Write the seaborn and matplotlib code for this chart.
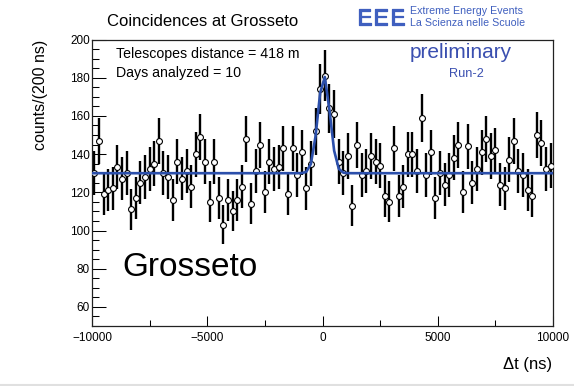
import numpy as np
import pandas as pd
import matplotlib
matplotlib.use("Agg")
import matplotlib.pyplot as plt
import matplotlib.patheffects as pe
import seaborn as sns
from matplotlib.lines import Line2D
from matplotlib.ticker import MultipleLocator

# ---- data ----
bin_centers = np.arange(-9900, 10000, 200)
counts = [130, 147, 119, 121, 122, 133, 127, 130, 111, 117,
          125, 128, 132, 135, 147, 130, 128, 116, 136, 127,
          131, 123, 140, 149, 136, 115, 136, 117, 103, 116,
          110, 116, 123, 148, 114, 131, 145, 120, 136, 132,
          133, 143, 119, 143, 129, 141, 122, 135, 152, 174,
          181, 164, 161, 136, 130, 139, 113, 145, 129, 131,
          139, 136, 134, 118, 115, 143, 118, 123, 140, 140,
          131, 159, 129, 141, 117, 130, 124, 129, 138, 145,
          120, 144, 125, 132, 141, 148, 139, 142, 124, 122,
          137, 147, 131, 129, 121, 118, 150, 146, 132, 134]
fit_baseline = 130.0
fit_amplitude = 51.0
fit_mean = 60.0
fit_sigma = 260.0
x_ticks = [-10000, -5000, 0, 5000, 10000]
y_ticks = [60, 80, 100, 120, 140, 160, 180, 200]

df = pd.DataFrame({"dt": bin_centers, "counts": counts})
df["err"] = np.sqrt(df["counts"])
fit_x = np.linspace(-10000, 10000, 100)
fit_df = pd.DataFrame({"dt": fit_x,
                       "f": fit_baseline + fit_amplitude * np.exp(-0.5 * ((fit_x - fit_mean) / fit_sigma) ** 2)})

sns.set_theme(style="ticks")
plt.rcParams["font.family"] = ["Liberation Sans", "DejaVu Sans"]
plt.rcParams["text.color"] = "black"
plt.rcParams["axes.labelcolor"] = "black"
plt.rcParams["xtick.color"] = "black"
plt.rcParams["ytick.color"] = "black"

W, H = 574, 386
fig = plt.figure(figsize=(W / 100, H / 100), dpi=100)
ax = fig.add_axes([92 / W, 1 - 326 / H, (553 - 92) / W, (326 - 39.5) / H])

ax.errorbar(df["dt"], df["counts"], yerr=df["err"], fmt="none",
            ecolor="black", elinewidth=1.7, capsize=0, zorder=2)
sns.scatterplot(data=df, x="dt", y="counts", ax=ax, marker="o", s=18,
                facecolor="white", edgecolor="black", linewidth=0.8, zorder=3, legend=False)
sns.lineplot(data=fit_df, x="dt", y="f", ax=ax, color="#2b4fab", linewidth=1.9,
             zorder=4, legend=False)

ax.set_xlim(-10000, 10000)
ax.set_ylim(50, 200)
ax.set_xticks(x_ticks)
ax.set_yticks(y_ticks)
ax.xaxis.set_minor_locator(MultipleLocator(2500))
ax.yaxis.set_minor_locator(MultipleLocator(5))
ax.set_xticklabels([f"{v}".replace("-", "\u2212") for v in x_ticks])
ax.tick_params(axis="x", which="major", direction="in", length=7.2, width=0.75,
               labelsize=8.5, pad=4, top=False)
ax.tick_params(axis="x", which="minor", direction="in", length=4, width=0.75, top=False)
ax.tick_params(axis="y", which="major", direction="in", length=9.9, width=0.75,
               labelsize=8.5, pad=1.5, right=False)
ax.tick_params(axis="y", which="minor", direction="in", length=5, width=0.75, right=False)
for sp in ax.spines.values():
    sp.set_visible(True)
    sp.set_linewidth(0.9)
    sp.set_color("#222222")
ax.set_xlabel("")
ax.set_ylabel("")

# axis titles
fig.text(40 / W, 1 - 40 / H, "counts/(200 ns)", rotation=90, ha="center", va="top", fontsize=11.5)
fig.text(552 / W, 1 - 365 / H, "\u0394t (ns)", ha="right", va="center", fontsize=12)

# title and logo
fig.text(203 / W, 1 - 21.5 / H, "Coincidences at Grosseto", ha="center", va="center", fontsize=12)
logo_blue = "#3f5fbf"
for i, letter in enumerate("EEE"):
    fig.text((357 + i * 16.5) / W, 1 - 24.5 / H, letter, ha="left", va="baseline",
             fontsize=16, color=logo_blue,
             path_effects=[pe.withStroke(linewidth=0.9, foreground=logo_blue)])
fig.text(410 / W, 1 - 11 / H, "Extreme Energy Events", ha="left", va="center",
         fontsize=7.7, color=logo_blue)
fig.text(410 / W, 1 - 23 / H, "La Scienza nelle Scuole", ha="left", va="center",
         fontsize=7.7, color=logo_blue)

# annotations inside plot
fig.text(116 / W, 1 - 54 / H, "Telescopes distance = 418 m", ha="left", va="center", fontsize=10.2)
fig.text(116 / W, 1 - 73 / H, "Days analyzed = 10", ha="left", va="center", fontsize=10.2)
fig.text(461 / W, 1 - 52 / H, "preliminary", ha="center", va="center", fontsize=15,
         color="#3a4fb0")
fig.text(466 / W, 1 - 74 / H, "Run-2", ha="center", va="center", fontsize=9.2, color="#3a4fb0")
fig.text(122 / W, 1 - 267 / H, "Grosseto", ha="left", va="center", fontsize=24)

fig.add_artist(Line2D([0, 1], [1.5 / H, 1.5 / H], color="#e0e0e0", linewidth=1.5))

fig.savefig("out.png", dpi=100, facecolor="white")
